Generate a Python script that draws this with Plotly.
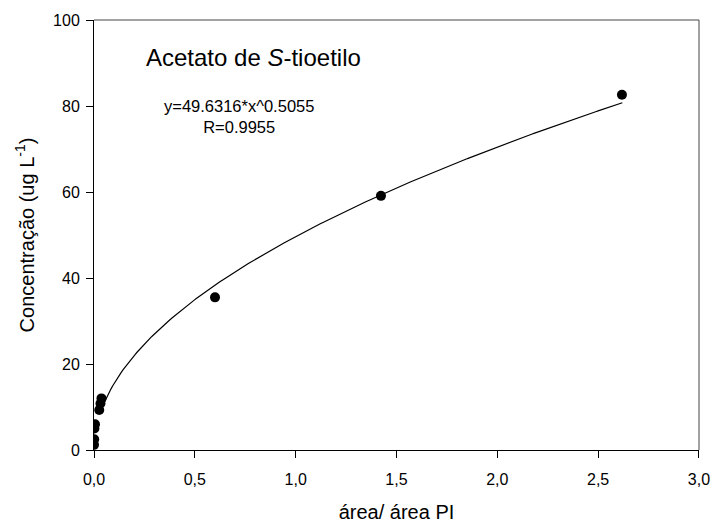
import numpy as np
import plotly.graph_objects as go

# Data
x_ratio = [0.0, 0.001, 0.002, 0.005, 0.026, 0.032, 0.037, 0.600, 1.423, 2.618]
y_conc = [1.2, 2.5, 5.0, 6.0, 9.3, 10.8, 12.0, 35.5, 59.1, 82.6]

# Fit reported on the chart
fit_a = 49.6316
fit_b = 0.5055
fit_r = 0.9955
fit_x_start = 0.05
fit_x_end = 2.62

x_ticks = [0.0, 0.5, 1.0, 1.5, 2.0, 2.5, 3.0]
x_tick_labels = ["0,0", "0,5", "1,0", "1,5", "2,0", "2,5", "3,0"]
y_ticks = [0, 20, 40, 60, 80, 100]

xf = np.linspace(fit_x_start, fit_x_end, 300)
yf = fit_a * xf ** fit_b

font = "Liberation Sans, Arial, sans-serif"

fig = go.Figure()
fig.add_trace(go.Scatter(x=xf, y=yf, mode="lines",
                         line=dict(color="black", width=1.2),
                         showlegend=False, hoverinfo="skip"))
fig.add_trace(go.Scatter(x=x_ratio, y=y_conc, mode="markers",
                         marker=dict(color="black", size=10),
                         showlegend=False))

fig.update_layout(
    width=722, height=531,
    margin=dict(l=94, r=15, t=19, b=74),
    paper_bgcolor="white", plot_bgcolor="white",
    font=dict(family=font, size=16, color="black"),
    xaxis=dict(range=[0, 3.0001], tickvals=x_ticks, ticktext=x_tick_labels,
               showgrid=False, zeroline=False, showline=True,
               linecolor="black", linewidth=1, ticks="outside",
               ticklen=7, tickcolor="black", ticklabelstandoff=8,
               title=dict(text="área/ área PI", font=dict(size=20), standoff=17)),
    yaxis=dict(range=[0, 100], tickvals=y_ticks,
               showgrid=False, zeroline=False, showline=True,
               linecolor="black", linewidth=1, ticks="outside",
               ticklen=7, tickcolor="black", ticklabelstandoff=3,
               title=dict(text="Concentração (ug L<sup>-1</sup>)", font=dict(size=20), standoff=13)),
    shapes=[
        dict(type="line", xref="paper", yref="paper", x0=0, x1=1, y0=1, y1=1,
             line=dict(color="#444444", width=1)),
        dict(type="line", xref="paper", yref="paper", x0=1, x1=1, y0=0, y1=1,
             line=dict(color="#444444", width=1)),
    ],
    annotations=[
        dict(x=0.264, y=0.913, xref="paper", yref="paper", showarrow=False,
             text="Acetato de <i>S</i>-tioetilo", font=dict(size=24),
             xanchor="center", yanchor="middle"),
        dict(x=0.239, y=0.776, xref="paper", yref="paper", showarrow=False,
             text=f"y={fit_a}*x^{fit_b}<br>R={fit_r}", font=dict(size=16.5),
             xanchor="center", yanchor="middle", align="center"),
    ],
)

fig.write_html(
    "out.html",
    config={"displayModeBar": False},
    post_script="document.body.style.margin='0';document.body.style.overflow='hidden';",
)
